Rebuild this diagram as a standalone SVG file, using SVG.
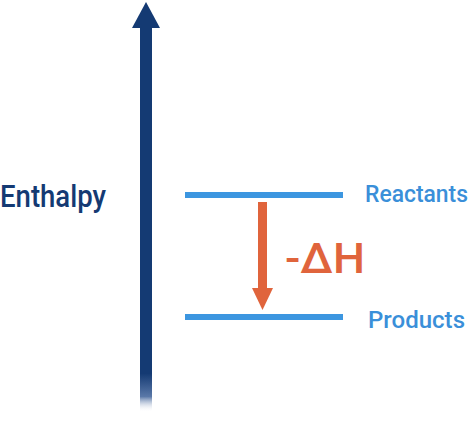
<svg xmlns="http://www.w3.org/2000/svg" width="474" height="425" viewBox="0 0 474 425">
  <defs>
    <linearGradient id="fade" x1="0" y1="0" x2="0" y2="1" gradientUnits="objectBoundingBox">
      <stop offset="0" stop-color="#143a73"/>
      <stop offset="0.9" stop-color="#143a73"/>
      <stop offset="0.96" stop-color="#5a78a8"/>
      <stop offset="1" stop-color="#ffffff" stop-opacity="0"/>
    </linearGradient>
  </defs>
  <style>
    .lbl { font-family: Roboto, "Liberation Sans", Arial, sans-serif; font-weight: 500; }
    .level { stroke: #3c96e0; stroke-width: 6; }
    .blue { fill: #3a8fd9; font-size: 24px; }
    .orange { fill: #e0643c; }
  </style>
  <rect width="474" height="425" fill="#ffffff"/>
  <g id="axis">
    <rect x="140" y="26" width="12" height="386" fill="url(#fade)"/>
    <polygon points="146,2 160,28 132,28" fill="#143a73"/>
    <text class="lbl" x="0" y="207" font-size="32" fill="#143a73" textLength="106" lengthAdjust="spacingAndGlyphs">Enthalpy</text>
  </g>
  <g id="reactants">
    <line class="level" x1="185" y1="195" x2="343" y2="195"/>
    <text class="lbl blue" x="365" y="202" textLength="103" lengthAdjust="spacingAndGlyphs">Reactants</text>
  </g>
  <g id="products">
    <line class="level" x1="185" y1="317" x2="343" y2="317"/>
    <text class="lbl blue" x="368" y="328" textLength="97" lengthAdjust="spacingAndGlyphs">Products</text>
  </g>
  <g id="connectors">
    <rect x="258" y="202" width="9" height="88" class="orange"/>
    <polygon points="252,288 273,288 262.5,310" class="orange"/>
  </g>
  <g id="deltaH">
    <text class="lbl orange" x="285" y="273" font-size="42" textLength="80" lengthAdjust="spacingAndGlyphs">-ΔH</text>
  </g>
</svg>
